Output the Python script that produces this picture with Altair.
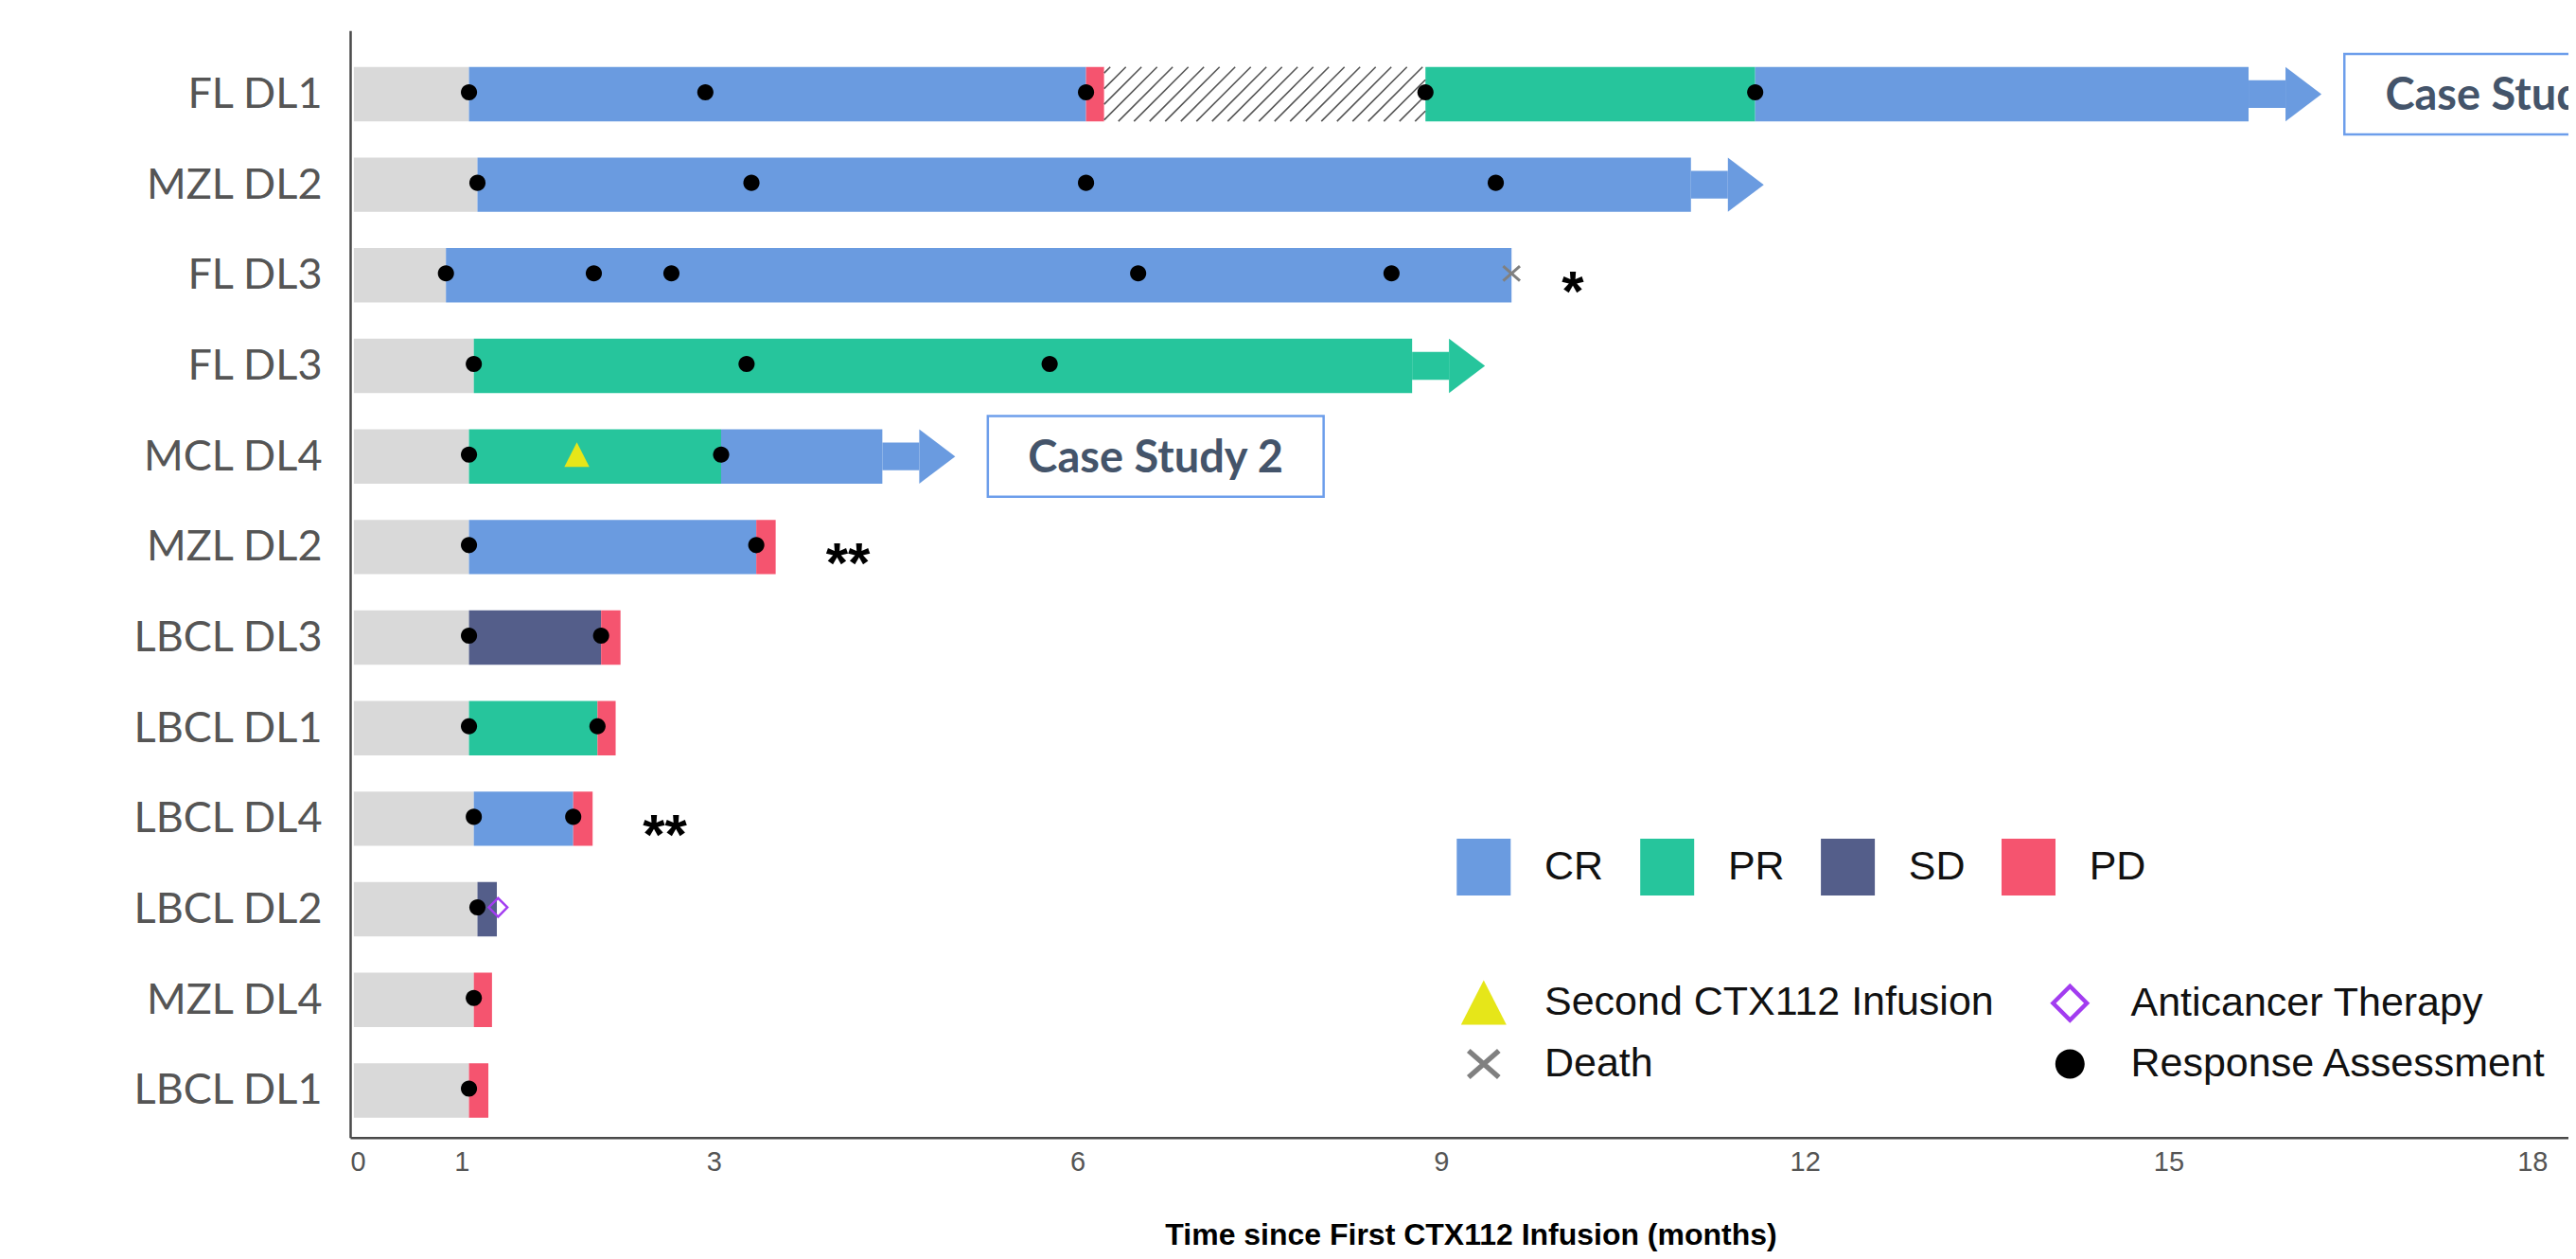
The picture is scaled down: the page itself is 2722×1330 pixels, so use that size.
import json
import numpy as np
import pandas as pd
import altair as alt

# ---------------- data ----------------
row_labels = ["FL DL1", "MZL DL2", "FL DL3", "FL DL3", "MCL DL4", "MZL DL2",
              "LBCL DL3", "LBCL DL1", "LBCL DL4", "LBCL DL2", "MZL DL4", "LBCL DL1"]

seg_row = [0, 0, 0, 0, 0, 0,
           1, 1,
           2, 2,
           3, 3,
           4, 4, 4,
           5, 5, 5,
           6, 6, 6,
           7, 7, 7,
           8, 8, 8,
           9, 9,
           10, 10,
           11, 11]
seg_start = [0.03, 0.98, 6.07, 6.22, 8.87, 11.59,
             0.03, 1.05,
             0.03, 0.79,
             0.03, 1.02,
             0.03, 0.98, 3.06,
             0.03, 0.98, 3.35,
             0.03, 0.98, 2.07,
             0.03, 0.98, 2.04,
             0.03, 1.02, 1.84,
             0.03, 1.05,
             0.03, 1.02,
             0.03, 0.98]
seg_end = [0.98, 6.07, 6.22, 8.87, 11.59, 15.66,
           1.05, 11.06,
           0.79, 9.58,
           1.02, 8.76,
           0.98, 3.06, 4.39,
           0.98, 3.35, 3.51,
           0.98, 2.07, 2.23,
           0.98, 2.04, 2.19,
           1.02, 1.84, 2.00,
           1.05, 1.21,
           1.02, 1.17,
           0.98, 1.14]
seg_status = ["Baseline", "CR", "PD", "Unknown", "PR", "CR",
              "Baseline", "CR",
              "Baseline", "CR",
              "Baseline", "PR",
              "Baseline", "PR", "CR",
              "Baseline", "CR", "PD",
              "Baseline", "SD", "PD",
              "Baseline", "PR", "PD",
              "Baseline", "CR", "PD",
              "Baseline", "SD",
              "Baseline", "PD",
              "Baseline", "PD"]

# ongoing responses (arrow at end of bar)
arrow_row = [0, 1, 3, 4]
arrow_end = [15.66, 11.06, 8.76, 4.39]
arrow_status = ["CR", "CR", "PR", "CR"]

# response assessments
ra_row = [0, 0, 0, 0, 0, 1, 1, 1, 1, 2, 2, 2, 2, 2, 3, 3, 3, 4, 4, 5, 5, 6, 6, 7, 7, 8, 8, 9, 10, 11]
ra_t = [0.98, 2.93, 6.07, 8.87, 11.59,
        1.05, 3.31, 6.07, 9.45,
        0.79, 2.01, 2.65, 6.50, 8.59,
        1.02, 3.27, 5.77,
        0.98, 3.06,
        0.98, 3.35,
        0.98, 2.07,
        0.98, 2.04,
        1.02, 1.84,
        1.05, 1.02, 0.98]

# other events
ev_row = [4, 2, 9]
ev_t = [1.87, 9.58, 1.22]
ev_name = ["Second CTX112 Infusion", "Death", "Anticancer Therapy"]

# asterisk notes
note_row = [2, 5, 8]
note_t = [9.58, 3.51, 2.00]
note_text = ["*", "**", "**"]

# case study call-outs
case_row = [0, 4]
case_x0 = [16.45, 5.26]
case_x1 = [19.23, 8.03]
case_label = ["Case Study 1", "Case Study 2"]

x_tick_values = [0, 0.92, 3, 6, 9, 12, 15, 18]

status_domain = ["CR", "PR", "SD", "PD", "Baseline", "Unknown"]
status_colors = ["#6a9be0", "#26c59c", "#545e8a", "#f5546f", "#d9d9d9", "#ffffff"]
event_domain = ["Second CTX112 Infusion", "Anticancer Therapy", "Death", "Response Assessment"]
event_colors = ["#e6e619", "#a23cf0", "#808080", "#000000"]

# ---------------- layout constants ----------------
W = 2344
H = 1169.4
PX_MONTH = 128.1
X_MAX = W / PX_MONTH
Y_MIN, Y_MAX = -0.702, 11.52
PX_ROW = H / (Y_MAX - Y_MIN)
HALF = 0.3          # bar half height (rows)
SHAFT = 0.153       # arrow shaft half height (rows)
XT = "Time since First CTX112 Infusion (months)"

# ---------------- marker paths ----------------
LR = 24.5  # legend symbol half-size in px (symbolSize = (2*LR)^2)


def poly(pts, r=LR):
    return "M" + "L".join(f"{x / r:.3f},{y / r:.3f}" for x, y in pts) + "Z"


tri_path = poly([(-24, 23.5), (24, 23.5), (0, -23.5)])
dia_path = poly([(0, -21), (21, 0), (0, 21), (-21, 0)]) + poly(
    [(0, -14.8), (-14.8, 0), (0, 14.8), (14.8, 0)])


def arm(p, q, t):
    d = np.array(q, float) - np.array(p, float)
    d /= np.linalg.norm(d)
    n = np.array([-d[1], d[0]]) * t / 2
    P, Q = np.array(p, float), np.array(q, float)
    return [tuple(P + n), tuple(Q + n), tuple(Q - n), tuple(P - n)]


a1 = arm((-16, -14), (16, 14), 5.5)
a2 = [(-x, y) for x, y in reversed(a1)]
x_path = poly(a1) + poly(a2)
cr = 15.5 / LR
dot_path = f"M{-cr:.3f},0A{cr:.3f},{cr:.3f},0,1,0,{cr:.3f},0A{cr:.3f},{cr:.3f},0,1,0,{-cr:.3f},0Z"
event_shapes = [tri_path, dia_path, x_path, dot_path]

head_path = f"M-1,{-HALF * PX_ROW / 19:.3f}L-1,{HALF * PX_ROW / 19:.3f}L1,0Z"
rect_sym = "M-0.95,-1L0.95,-1L0.95,1L-0.95,1Z"

# ---------------- tables ----------------
seg_df = pd.DataFrame({"row": seg_row, "start": seg_start, "end": seg_end, "status": seg_status})
seg_df["y0"] = seg_df["row"] - HALF
seg_df["y1"] = seg_df["row"] + HALF

arrow_df = pd.DataFrame({"row": arrow_row, "end": arrow_end, "status": arrow_status})
arrow_df["s0"] = arrow_df["row"] - SHAFT
arrow_df["s1"] = arrow_df["row"] + SHAFT

ev_df = pd.concat([
    pd.DataFrame({"row": ra_row, "t": ra_t, "event": "Response Assessment"}),
    pd.DataFrame({"row": ev_row, "t": ev_t, "event": ev_name}),
], ignore_index=True)

note_df = pd.DataFrame({"row": note_row, "t": note_t, "txt": note_text})

case_df = pd.DataFrame({"row": case_row, "x0": case_x0, "x1": case_x1, "label": case_label})
case_df["xc"] = (case_df["x0"] + case_df["x1"]) / 2
case_df["b0"] = case_df["row"] - 0.445
case_df["b1"] = case_df["row"] + 0.445

# hatch pattern lines (45 degrees) inside the "Unknown" segment
hi = seg_status.index("Unknown")
hs, he, hr = seg_start[hi], seg_end[hi], seg_row[hi]
hh = (2 * HALF * PX_ROW) / PX_MONTH
hstep = 16.5 / PX_MONTH
hatch = []
x0 = hs - hh + 0.05
while x0 < he:
    t0 = max(0.0, (hs - x0) / hh)
    t1 = min(1.0, (he - x0) / hh)
    if t1 > t0:
        hatch.append({"xa": x0 + t0 * hh, "ya": hr + HALF - t0 * 2 * HALF,
                      "xb": x0 + t1 * hh, "yb": hr + HALF - t1 * 2 * HALF})
    x0 += hstep
hatch_df = pd.DataFrame(hatch)

# ---------------- scales / legends ----------------
xscale = alt.Scale(domain=[0, X_MAX], nice=False, zero=False)
yscale = alt.Scale(domain=[Y_MIN, Y_MAX], reverse=True, nice=False, zero=False)
status_scale = alt.Scale(domain=status_domain, range=status_colors)
ev_color_scale = alt.Scale(domain=event_domain, range=event_colors)
ev_shape_scale = alt.Scale(domain=event_domain, range=event_shapes)

status_legend = alt.Legend(
    title=None, orient="none", legendX=1167.8, legendY=853.7, columns=4,
    values=["CR", "PR", "SD", "PD"], symbolType=rect_sym, symbolSize=3600,
    symbolStrokeWidth=0, symbolOpacity=1, labelFont="Liberation Sans", labelFontSize=43,
    labelColor="#111111", labelOffset=34.2, columnPadding=36.9, rowPadding=0,
    padding=0, labelLimit=1000, direction="horizontal")

ev_legend = alt.Legend(
    title=None, orient="none", legendX=1173.3, legendY=1002.2, columns=2,
    symbolSize=(2 * LR) ** 2, symbolStrokeWidth=0, symbolOpacity=1,
    labelFont="Liberation Sans", labelFontSize=43, labelColor="#111111",
    labelOffset=39.7, columnPadding=55.5, rowPadding=17, padding=0,
    labelLimit=1000, direction="horizontal")

x_axis = alt.Axis(values=x_tick_values, format=".0f", labelOverlap=False,
                  titleX=1184, titleY=113.3, titleBaseline="alphabetic", titleAlign="center")
y_axis = alt.Axis(values=list(range(len(row_labels))),
                  labelExpr=json.dumps(row_labels) + "[datum.value]", labelOverlap=False,
                  labelLimit=1000)


def X(f, **kw):
    return alt.X(f, scale=xscale, title=XT, **kw)


def Y(f, **kw):
    return alt.Y(f, scale=yscale, title=None, **kw)


bars = alt.Chart(seg_df).mark_rect().encode(
    x=X("start:Q", axis=x_axis), x2="end:Q",
    y=Y("y0:Q", axis=y_axis), y2="y1:Q",
    fill=alt.Fill("status:N", scale=status_scale, legend=status_legend),
)

shafts = alt.Chart(arrow_df).mark_rect(x2Offset=39).encode(
    x=X("end:Q"), x2="end:Q", y=Y("s0:Q"), y2="s1:Q",
    fill=alt.Fill("status:N", scale=status_scale, legend=status_legend),
)

heads = alt.Chart(arrow_df).mark_point(
    filled=True, shape=head_path, size=19 * 19 * 4, xOffset=58, strokeWidth=0, opacity=1
).encode(
    x=X("end:Q"), y=Y("row:Q"),
    fill=alt.Fill("status:N", scale=status_scale, legend=status_legend),
)

hatch_lines = alt.Chart(hatch_df).mark_rule(color="#555555", strokeWidth=1.6).encode(
    x=X("xa:Q"), x2="xb:Q", y=Y("ya:Q"), y2="yb:Q",
)

boxes = alt.Chart(case_df).mark_rect(
    fill="white", stroke="#6d9eeb", strokeWidth=2.5, clip=True
).encode(x=X("x0:Q"), x2="x1:Q", y=Y("b0:Q"), y2="b1:Q")

box_text = alt.Chart(case_df).mark_text(
    font="Lato", fontWeight="bold", fontSize=47, color="#44546a",
    baseline="middle", align="center", dy=3, clip=True
).encode(x=X("xc:Q"), y=Y("row:Q"), text="label:N")

events = alt.Chart(ev_df).mark_point(
    filled=True, size=729, opacity=1, strokeWidth=0, yOffset=-2
).encode(
    x=X("t:Q"), y=Y("row:Q"),
    color=alt.Color("event:N", scale=ev_color_scale, legend=ev_legend),
    shape=alt.Shape("event:N", scale=ev_shape_scale, legend=ev_legend),
)

notes = alt.Chart(note_df).mark_text(
    align="left", baseline="alphabetic", dx=53, dy=37,
    font="Liberation Sans", fontWeight="bold", fontSize=60, color="black"
).encode(x=X("t:Q"), y=Y("row:Q"), text="txt:N")

chart = alt.layer(
    bars, shafts, heads, hatch_lines, boxes, box_text, events, notes
).properties(
    width=W, height=H,
    autosize=alt.AutoSizeParams(type="none"),
    padding={"left": 362, "top": 24.3, "right": 0, "bottom": 120},
).configure_view(stroke=None).configure_axis(
    domainColor="#4a4a4a", domainWidth=2.5, ticks=False, tickSize=0, grid=False,
).configure_axisX(
    labelFont="Liberation Sans", labelFontSize=29, labelColor="#555555",
    labelBaseline="alphabetic", labelPadding=35,
    titleFont="Liberation Sans", titleFontSize=32, titleFontWeight="bold", titleColor="#000000",
).configure_axisY(
    labelFont="Lato", labelFontSize=45, labelColor="#555555", labelPadding=30,
    labelBaseline="middle", labelAlign="right", labelLimit=1000,
)

chart.save("out.html", embed_options={"renderer": "svg", "actions": False})
